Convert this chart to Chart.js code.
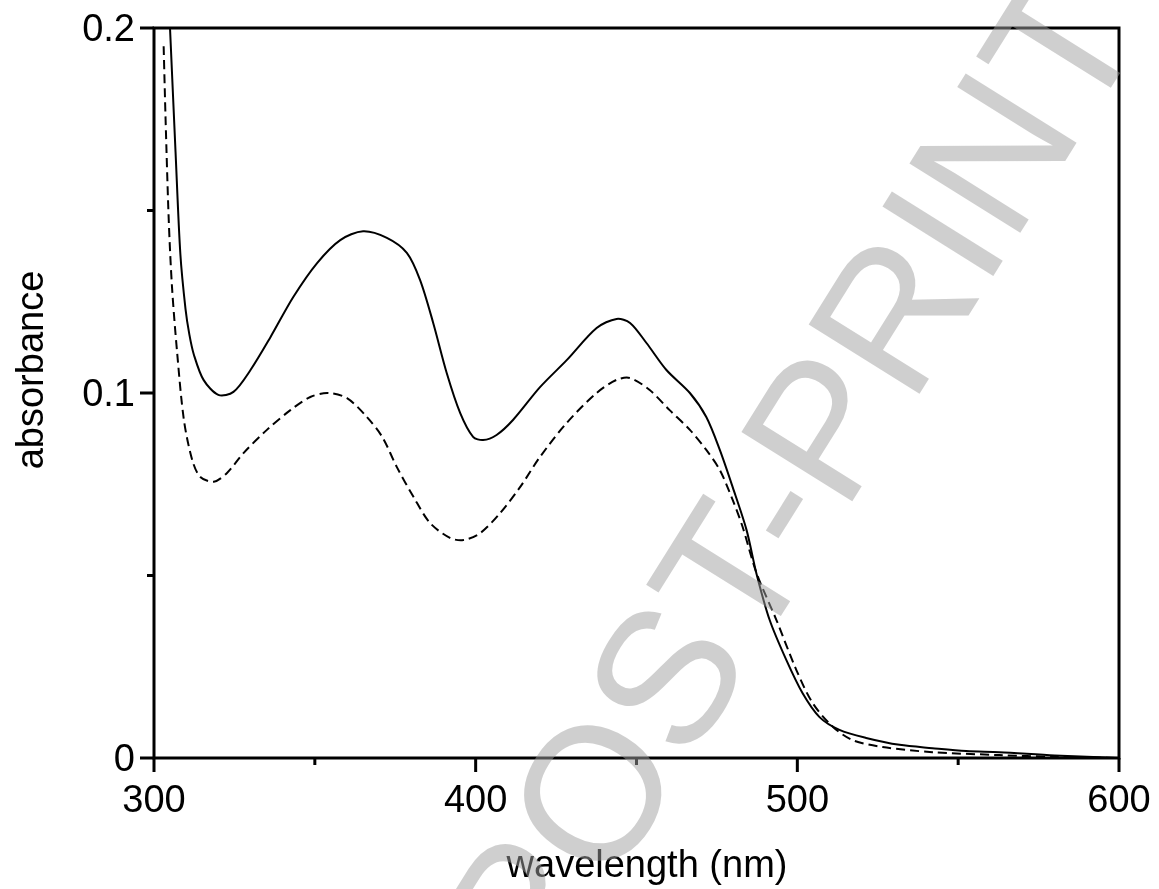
<!DOCTYPE html>
<html>
<head>
<meta charset="utf-8">
<script src="https://cdn.jsdelivr.net/npm/chart.js@4.4.1/dist/chart.umd.min.js"></script>
<style>
  html, body { margin: 0; padding: 0; background: #fff; }
  #wrap { width: 1159px; height: 889px; }
</style>
</head>
<body>
<div id="wrap"><canvas id="spectrum" width="1159" height="889"></canvas></div>
<script>
// Absorption spectra (wavelength in nm, absorbance)
const wavelengthSolid = [304, 305, 306.7, 308.2, 309.8, 311, 312.4, 315.4, 320, 324.7, 330, 336.2, 343.3, 350.7, 357.9, 365, 372.4, 378.6, 382.7, 386.8, 391, 395.2, 399.2, 402.3, 406.5, 411.6, 420, 428.3, 437.6, 443.8, 448, 453.1, 459.3, 466.6, 471.7, 475.9, 479.9, 484.2, 487.3, 491.4, 496.6, 501.6, 506.9, 513.1, 521.4, 531.8, 542, 552.5, 562.8, 580, 600];
const absorbanceSolid = [0.219, 0.1995, 0.166, 0.138, 0.123, 0.116, 0.1105, 0.1036, 0.0995, 0.1003, 0.1063, 0.1153, 0.1263, 0.1356, 0.1419, 0.1443, 0.1425, 0.1384, 0.131, 0.1192, 0.1055, 0.0945, 0.088, 0.0871, 0.0885, 0.0926, 0.1016, 0.109, 0.1178, 0.1203, 0.1192, 0.1137, 0.1063, 0.100, 0.0934, 0.0844, 0.0742, 0.0625, 0.0505, 0.0378, 0.0268, 0.0178, 0.0112, 0.0077, 0.0055, 0.0036, 0.0027, 0.0019, 0.0016, 0.0007, 0.0];

const wavelengthDashed = [303, 303.6, 304.6, 305.6, 307.2, 309.3, 311.9, 314.4, 318.6, 322.7, 327.9, 335.1, 342.4, 348.6, 354, 360, 366.2, 371, 375.5, 380.7, 385.8, 392, 396.2, 401.4, 407.6, 413.8, 420, 428.3, 437.6, 443.8, 448, 454.1, 460.3, 466.6, 471.7, 475.9, 479.9, 483, 487.3, 493.5, 499.7, 504.8, 511.1, 517.2, 526.5, 542, 562.8, 580, 600];
const absorbanceDashed = [0.195, 0.175, 0.147, 0.129, 0.111, 0.0926, 0.0816, 0.077, 0.0757, 0.0781, 0.0836, 0.0899, 0.0953, 0.0989, 0.1, 0.0986, 0.0934, 0.0879, 0.0797, 0.0715, 0.0644, 0.0603, 0.0597, 0.0616, 0.0671, 0.0742, 0.0825, 0.0918, 0.1, 0.1036, 0.1041, 0.1008, 0.0953, 0.0899, 0.0844, 0.0789, 0.0707, 0.0633, 0.0507, 0.0378, 0.0241, 0.015, 0.0085, 0.0049, 0.003, 0.0016, 0.0008, 0.0003, 0.0];

// axis ticks
const xMajorTicks = [300, 400, 500, 600];
const xMinorTicks = [350, 450, 550];
const yMajorTicks = [0, 0.1, 0.2];
const yMinorTicks = [0.05, 0.15];

const xTitle = 'wavelength (nm)';
const yTitle = 'absorbance';
const watermark = 'POST-PRINT';

const FONT = '"Liberation Sans", Arial, Helvetica, sans-serif';
Chart.defaults.font.family = FONT;
Chart.defaults.color = '#000';

function toPoints(xs, ys) {
    return xs.map((x, i) => ({ x: x, y: ys[i] }));
}

// frame, outside tick marks, axis titles and the watermark
const decorations = {
    id: 'decorations',
    afterDraw(chart) {
        const ctx = chart.ctx;
        const area = chart.chartArea;
        const xs = chart.scales.x;
        const ys = chart.scales.y;

        ctx.save();
        ctx.strokeStyle = '#000';
        ctx.lineWidth = 3;
        ctx.strokeRect(area.left, area.top, area.right - area.left, area.bottom - area.top);

        ctx.beginPath();
        xMajorTicks.forEach(v => {
            const px = xs.getPixelForValue(v);
            ctx.moveTo(px, area.bottom);
            ctx.lineTo(px, area.bottom + 14);
        });
        xMinorTicks.forEach(v => {
            const px = xs.getPixelForValue(v);
            ctx.moveTo(px, area.bottom);
            ctx.lineTo(px, area.bottom + 7);
        });
        yMajorTicks.forEach(v => {
            const py = ys.getPixelForValue(v);
            ctx.moveTo(area.left, py);
            ctx.lineTo(area.left - 14, py);
        });
        yMinorTicks.forEach(v => {
            const py = ys.getPixelForValue(v);
            ctx.moveTo(area.left, py);
            ctx.lineTo(area.left - 7, py);
        });
        ctx.stroke();

        ctx.fillStyle = '#000';
        ctx.font = '38px ' + FONT;
        ctx.textAlign = 'center';
        ctx.textBaseline = 'alphabetic';
        ctx.fillText(xTitle, 647, 877);

        ctx.save();
        ctx.translate(43, 370);
        ctx.rotate(-Math.PI / 2);
        ctx.fillText(yTitle, 0, 0);
        ctx.restore();

        // grey diagonal stamp on top of everything
        ctx.save();
        ctx.translate(542, 998);
        ctx.rotate(-58 * Math.PI / 180);
        ctx.font = '190px ' + FONT;
        ctx.textAlign = 'left';
        ctx.fillStyle = 'rgba(160, 160, 160, 0.5)';
        ctx.fillText(watermark, 0, 0);
        ctx.restore();

        ctx.restore();
    }
};

const ctx = document.getElementById('spectrum').getContext('2d');
new Chart(ctx, {
    type: 'line',
    data: {
        datasets: [{
            data: toPoints(wavelengthSolid, absorbanceSolid),
            borderColor: '#000',
            borderWidth: 2,
            pointRadius: 0,
            fill: false,
            tension: 0.3
        }, {
            data: toPoints(wavelengthDashed, absorbanceDashed),
            borderColor: '#000',
            borderWidth: 2,
            borderDash: [9, 5],
            pointRadius: 0,
            fill: false,
            tension: 0.3
        }]
    },
    options: {
        responsive: false,
        animation: false,
        layout: { padding: { top: 28, right: 40, left: 0, bottom: 0 } },
        plugins: {
            legend: { display: false },
            tooltip: { enabled: false }
        },
        scales: {
            x: {
                type: 'linear',
                min: 300,
                max: 600,
                afterBuildTicks: s => { s.ticks = xMajorTicks.map(v => ({ value: v })); },
                afterFit: s => { s.height = 131; s.paddingLeft = 0; s.paddingRight = 0; },
                grid: { display: false, drawTicks: false },
                border: { display: false },
                ticks: {
                    padding: 21,
                    maxRotation: 0,
                    font: { size: 38 },
                    callback: v => String(v)
                }
            },
            y: {
                type: 'linear',
                min: 0,
                max: 0.2,
                afterBuildTicks: s => { s.ticks = yMajorTicks.map(v => ({ value: v })); },
                afterFit: s => { s.width = 154; s.paddingTop = 0; s.paddingBottom = 0; },
                grid: { display: false, drawTicks: false },
                border: { display: false },
                ticks: {
                    padding: 19,
                    labelOffset: 3,
                    font: { size: 38 },
                    callback: v => String(v)
                }
            }
        }
    },
    plugins: [decorations]
});
</script>
</body>
</html>
